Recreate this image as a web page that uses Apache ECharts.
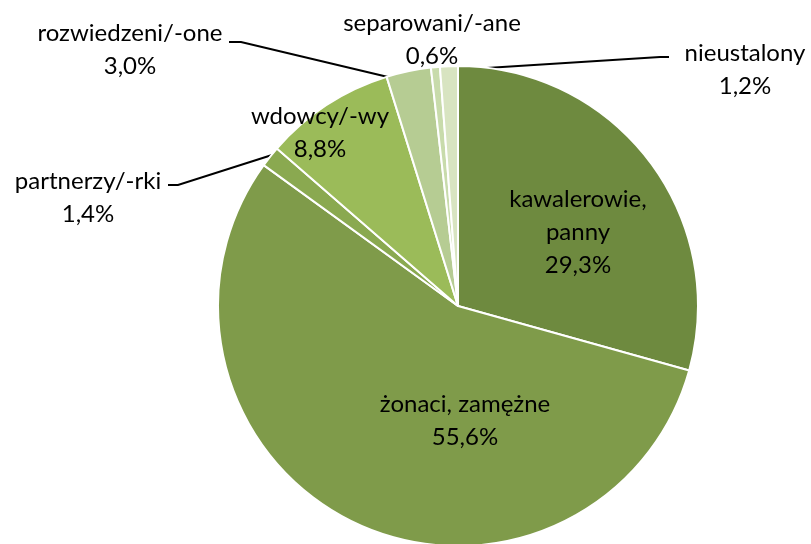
<!DOCTYPE html>
<html>
<head>
    <meta charset="utf-8">
    <title>Stan cywilny</title>
    <script type="text/javascript" src="https://cdn.jsdelivr.net/npm/echarts@6/dist/echarts.min.js"></script>
</head>
<body style="margin:0;background:#fff;">
    <div id="main" style="width: 811px;height:544px;"></div>

    <script type="text/javascript">
        // dane
        var categories = ['kawalerowie,\npanny', 'żonaci, zamężne', 'partnerzy/-rki', 'wdowcy/-wy',
                          'rozwiedzeni/-one', 'separowani/-ane', 'nieustalony'];
        var values = [29.3, 55.6, 1.4, 8.8, 3.0, 0.6, 1.2];
        var colors = ['#6e8a3f', '#7f9b4a', '#8aa950', '#9bbb59', '#b6cc93', '#c8dbab', '#d8e4c1'];

        // pozycje etykiet (srodek tekstu) i linie odniesienia
        var labelPos = [[578, 232], [465, 421], [88, 198], [320, 133], [130, 50], [432, 40], [745, 70]];
        var leaderLines = {
            2: [[168, 185], [178, 185], [272, 155]],
            4: [[229, 42], [241, 42], [388, 77]],
            6: [[669, 57], [660, 57], [455, 70]]
        };

        var myChart = echarts.init(document.getElementById('main'));

        var seriesData = [];
        for (var i = 0; i < values.length; i++) {
            seriesData.push({
                name: categories[i],
                value: values[i],
                itemStyle: { color: colors[i] },
                labelLine: { show: !!leaderLines[i] }
            });
        }

        myChart.setOption({
            animation: false,
            series: [{
                type: 'pie',
                center: [458, 306],
                radius: 240,
                startAngle: 90,
                clockwise: true,
                itemStyle: { borderColor: '#fff', borderWidth: 2 },
                label: {
                    show: true,
                    position: 'outside',
                    color: '#000',
                    fontFamily: 'Lato',
                    fontSize: 24,
                    lineHeight: 33,
                    align: 'center',
                    overflow: 'none',
                    formatter: function (p) {
                        return p.name + '\n' + p.value.toFixed(1).replace('.', ',') + '%';
                    }
                },
                labelLine: {
                    lineStyle: { color: '#000', width: 2 }
                },
                labelLayout: function (params) {
                    var pos = labelPos[params.dataIndex];
                    var res = {
                        x: pos[0],
                        y: pos[1],
                        align: 'center',
                        verticalAlign: 'middle',
                        moveOverlap: false
                    };
                    if (leaderLines[params.dataIndex]) {
                        res.labelLinePoints = leaderLines[params.dataIndex];
                    }
                    return res;
                },
                data: seriesData
            }]
        });
    </script>
</body>
</html>
